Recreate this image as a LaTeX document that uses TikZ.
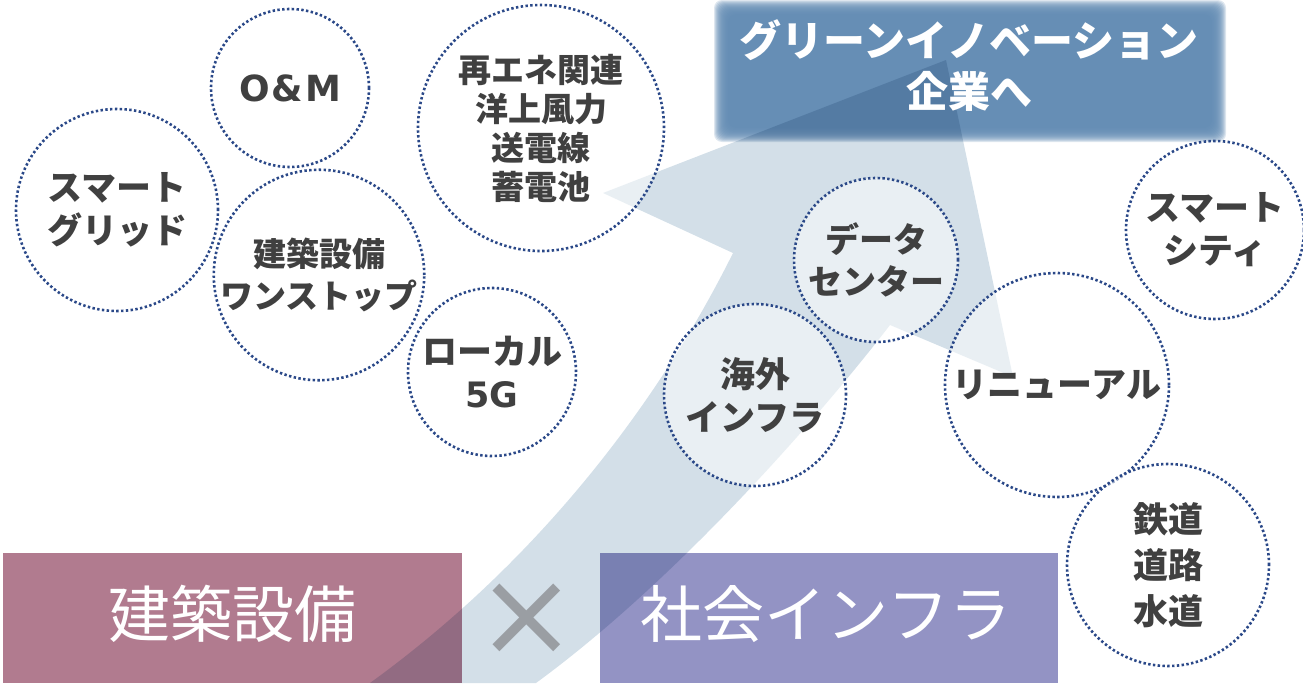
\documentclass[tikz,border=0pt]{standalone}
\usepackage{fontspec}
\setmainfont{Noto Sans CJK JP}
\newfontfamily\latfont{DejaVu Sans}
\definecolor{txtgray}{HTML}{404040}
\definecolor{dotblue}{HTML}{2A4888}
\definecolor{arrowblue}{HTML}{D3DFE8}
\definecolor{topblue}{HTML}{628BB3}
\definecolor{pinkbox}{HTML}{B17B8F}
\definecolor{purplebox}{HTML}{9393C4}
\definecolor{crossgray}{HTML}{9A9EA3}
\begin{document}
\begin{tikzpicture}[x=1pt,y=-1pt,
  bubble/.style={circle, draw=dotblue, line width=2.6pt, dash pattern=on 2.4pt off 2.4pt,
    fill=white, fill opacity=0.52, draw opacity=1, text opacity=1, inner sep=0pt,
    text=txtgray, align=center, font=\fontsize{35}{43}\selectfont\bfseries},
  bigtext/.style={text=white, align=center, font=\fontsize{62}{70}\selectfont}]
\useasboundingbox (0,0) rectangle (1303,683);
\clip (0,0) rectangle (1303,683);
% top box with soft edge
\foreach \d in {8,7,...,-7} {
  \fill[topblue, opacity=0.21, rounded corners=8pt] (722-\d,8-\d) rectangle (1218+\d,134+\d);
}
% bottom boxes
\fill[pinkbox] (3,553) rectangle (462,683);
\fill[purplebox] (600,553) rectangle (1058,683);
% big arrow
\begin{scope}[blend mode=multiply]
\fill[arrowblue] (603,193) -- (946,60) -- (1013,377) -- (890,325)
  .. controls (805,435) and (666,588) .. (536,683) -- (370,683)
  .. controls (540,560) and (660,400) .. (733,253) -- cycle;
\end{scope}
% texts of boxes
\node[text=white, align=center, font=\fontsize{42}{51}\selectfont\bfseries] (green) at (969,66) {グリーンイノベーション\\企業へ};
\node[bigtext] (kenchiku) at (232,614) {建築設備};
\node[bigtext] (shakai) at (826,614) {社会インフラ};
\node[text=crossgray, font=\latfont\fontsize{120}{120}\selectfont] (cross) at (527,620) {×};
% bubbles
\node[bubble, minimum size=158pt, font=\latfont\fontsize{36}{43}\selectfont\bfseries] (om) at (290,88) {O\kern2pt\&\kern2pt M};
\node[bubble, minimum size=202pt] (sg) at (117,210) {スマート\\グリッド};
\node[bubble, minimum size=200pt, font=\fontsize{33}{42}\selectfont\bfseries] (ws) at (319,275) {建築設備\\ワンストップ};
\node[bubble, minimum size=246pt, font=\fontsize{33}{39}\selectfont\bfseries] (re) at (541,128) {再エネ関連\\洋上風力\\送電線\\蓄電池};
\node[bubble, minimum size=168pt] (l5) at (492,372) {ローカル\\{\latfont 5G}};
\node[bubble, minimum size=182pt] (kg) at (755,395) {海外\\インフラ};
\node[bubble, minimum size=164pt, font=\fontsize{34}{42}\selectfont\bfseries] (dc) at (876,260) {データ\\センター};
\node[bubble, minimum size=224pt] (rn) at (1057,385) {リニューアル};
\node[bubble, minimum size=178pt] (sc) at (1215,230) {スマート\\シティ};
\node[bubble, minimum size=202pt, font=\fontsize{35}{46}\selectfont\bfseries] (td) at (1168,565) {鉄道\\道路\\水道};
\end{tikzpicture}
\end{document}
